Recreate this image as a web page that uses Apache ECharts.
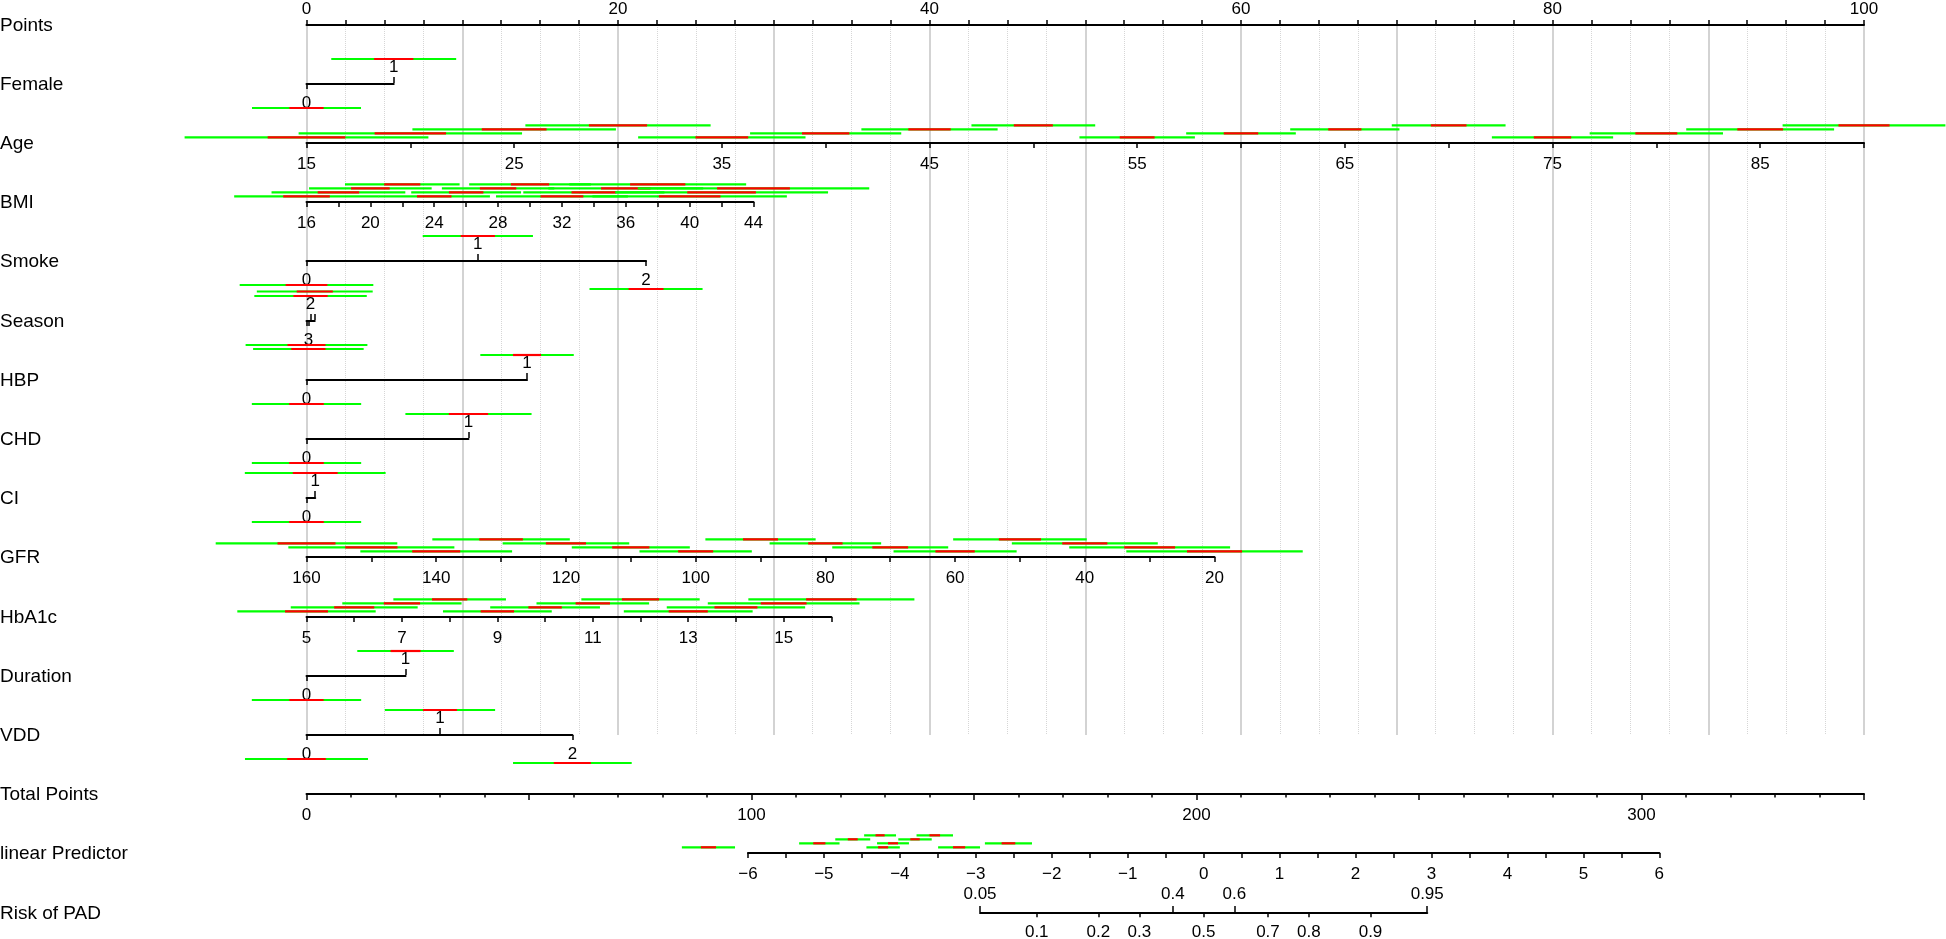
<!DOCTYPE html>
<html>
<head>
<meta charset="utf-8">
<title>Nomogram - Risk of PAD</title>
<script src="https://cdn.jsdelivr.net/npm/echarts@6/dist/echarts.min.js"></script>
<style>
  html, body { margin: 0; padding: 0; background: #fff; }
  #chart { width: 1946px; height: 939px; }
</style>
</head>
<body>
<div id="chart"></div>
<script>
// row titles, top to bottom
const rowNames = ['Points', 'Female', 'Age', 'BMI', 'Smoke', 'Season', 'HBP', 'CHD', 'CI',
  'GFR', 'HbA1c', 'Duration', 'VDD', 'Total Points', 'linear Predictor', 'Risk of PAD'];

// continuous predictors: values with a bar, half width of red (inner) and green (outer) band, in variable units
const ageValues = [15, 20, 25, 30, 35, 40, 45, 50, 55, 60, 65, 70, 75, 80, 85, 90];
const ageRed = [1.87, 1.72, 1.56, 1.40, 1.27, 1.14, 1.02, 0.94, 0.84, 0.83, 0.80, 0.86, 0.90, 1.01, 1.10, 1.23];
const ageGreen = [5.87, 5.38, 4.90, 4.46, 4.03, 3.64, 3.28, 2.98, 2.78, 2.64, 2.63, 2.74, 2.92, 3.21, 3.56, 3.92];
const agePoints = [0, 100];          // points at age 15 and at age 90

const bmiValues = [16, 18, 20, 22, 24, 26, 28, 30, 32, 34, 36, 38, 40, 42, 44];
const bmiRed = [1.46, 1.30, 1.21, 1.13, 1.08, 1.08, 1.14, 1.20, 1.34, 1.40, 1.55, 1.73, 1.93, 2.15, 2.28];
const bmiGreen = [4.53, 4.19, 3.84, 3.59, 3.49, 3.44, 3.52, 3.81, 4.13, 4.42, 4.85, 5.54, 6.09, 6.67, 7.25];
const bmiPoints = [0, 28.7];         // points at BMI 16 and 44

const gfrValues = [20, 30, 40, 50, 60, 70, 80, 90, 100, 110, 120, 130, 140, 150, 160];
const gfrRed = [4.25, 3.92, 3.48, 3.25, 3.03, 2.76, 2.65, 2.70, 2.70, 2.87, 3.09, 3.36, 3.70, 4.03, 4.47];
const gfrGreen = [13.6, 12.4, 11.25, 10.3, 9.49, 8.94, 8.6, 8.5, 8.66, 9.1, 9.76, 10.6, 11.7, 12.8, 14.0];
const gfrPoints = [0, 58.3];         // points at GFR 160 and 20

const hba1cValues = [5, 6, 7, 8, 9, 10, 11, 12, 13, 14, 15, 16];
const hba1cRed = [0.45, 0.42, 0.38, 0.37, 0.35, 0.35, 0.36, 0.39, 0.41, 0.45, 0.48, 0.53];
const hba1cGreen = [1.45, 1.33, 1.25, 1.18, 1.14, 1.15, 1.18, 1.24, 1.35, 1.45, 1.59, 1.74];
const hba1cPoints = [0, 33.7];       // points at HbA1c 5 and 16

// categorical predictors: level, points, label side (a = above, b = below), half widths in points
const femaleLevels = ['0', '1'];
const femalePts = [0, 5.6];
const femaleSide = ['b', 'a'];
const femaleRed = [1.10, 1.26];
const femaleGreen = [3.50, 4.01];

const smokeLevels = ['0', '1', '2'];
const smokePts = [0, 11.0, 21.8];
const smokeSide = ['b', 'a', 'b'];
const smokeRed = [1.34, 1.10, 1.12];
const smokeGreen = [4.29, 3.54, 3.63];

const seasonLevels = ['1', '2', '3', '4'];
const seasonPts = [0, 0.26, 0.12, 0.53];
const seasonSide = ['b', 'a', 'b', 'a'];
const seasonShown = [false, true, true, false];
const seasonRed = [1.22, 1.10, 1.10, 1.16];
const seasonGreen = [3.91, 3.61, 3.55, 3.72];

const hbpLevels = ['0', '1'];
const hbpPts = [0, 14.16];
const hbpRed = [1.11, 0.90];
const hbpGreen = [3.51, 3.00];

const chdLevels = ['0', '1'];
const chdPts = [0, 10.4];
const chdRed = [1.11, 1.26];
const chdGreen = [3.51, 4.05];

const ciLevels = ['0', '1'];
const ciPts = [0, 0.56];
const ciRed = [1.11, 1.44];
const ciGreen = [3.51, 4.52];

const durationLevels = ['0', '1'];
const durationPts = [0, 6.36];
const durationRed = [1.10, 0.96];
const durationGreen = [3.51, 3.10];

const vddLevels = ['0', '1', '2'];
const vddPts = [0, 8.57, 17.07];
const vddSide = ['b', 'a', 'b'];
const vddRed = [1.24, 1.09, 1.19];
const vddGreen = [3.95, 3.54, 3.81];

// total points / linear predictor / risk scales
const totalRange = [0, 350];
const lpRange = [-6, 6];
const lpTotalAt = [99.2, 304.0];     // total points at LP -6 and LP 6
const lpCenters = [-6.52, -5.06, -4.62, -4.26, -4.22, -4.09, -3.80, -3.54, -3.22, -2.57];
const lpRed = [0.10, 0.08, 0.065, 0.06, 0.066, 0.066, 0.062, 0.07, 0.08, 0.09];
const lpGreen = [0.35, 0.266, 0.23, 0.21, 0.22, 0.21, 0.22, 0.24, 0.276, 0.31];
const riskAbove = [0.05, 0.4, 0.6, 0.95];
const riskBelow = [0.1, 0.2, 0.3, 0.5, 0.7, 0.8, 0.9];

// ---- layout ----
const FONT = '"Liberation Sans", Arial, Helvetica, sans-serif';
const GREEN = '#00ff00';
const RED = '#ff0000';
const BAR_W = 2.2;
const X0 = 306.5;                    // x of 0 points
const PX = 15.575;                   // pixels per point
const rowY = function (i) { return Math.round(24.5 + 59.2 * i); };
const ptsX = function (p) { return X0 + p * PX; };
const TPX = 100 * PX / (totalRange[1] - totalRange[0]);
const logit = function (p) { return Math.log(p / (1 - p)); };

const grids = [];
const xAxes = [];
const yAxes = [];
const series = [];
const graphics = [];

const merge = function merge(a, b) {
  const out = Object.assign({}, a);
  Object.keys(b).forEach(function (k) {
    const v = b[k];
    if (v && typeof v === 'object' && !Array.isArray(v) && a[k] && typeof a[k] === 'object') {
      out[k] = merge(a[k], v);
    } else {
      out[k] = v;
    }
  });
  return out;
};

const addGrid = function (left, width, top, height) {
  grids.push({ left: left, width: width, top: top, height: height, containLabel: false });
  const gi = grids.length - 1;
  yAxes.push({ gridIndex: gi, type: 'value', min: 0, max: 1, show: false });
  return gi;
};

const baseAxis = function (gi, extra) {
  return merge({
    gridIndex: gi,
    type: 'value',
    axisLine: { show: true, onZero: false, lineStyle: { color: '#000', width: 2 } },
    axisTick: { show: true, length: 5, lineStyle: { color: '#000', width: 1.5 } },
    axisLabel: { color: '#000', fontSize: 17, fontFamily: FONT, margin: 13 },
    splitLine: { show: false }
  }, extra);
};

const addXAxis = function (opt) {
  xAxes.push(opt);
  return xAxes.length - 1;
};

const renderBar = function (params, api) {
  const c = api.value(0);
  const r = api.value(2);
  const g = api.value(3);
  const y = api.coord([c, 0])[1] + api.value(4);
  const x = function (v) { return api.coord([v, 0])[0]; };
  return {
    type: 'group',
    children: [
      { type: 'line', shape: { x1: x(c - g), y1: y, x2: x(c + g), y2: y }, style: { stroke: GREEN, lineWidth: BAR_W } },
      { type: 'line', shape: { x1: x(c - r), y1: y, x2: x(c + r), y2: y }, style: { stroke: RED, lineWidth: BAR_W } }
    ]
  };
};

const addBars = function (gi, xi, data) {
  series.push({
    type: 'custom',
    xAxisIndex: xi,
    yAxisIndex: gi,
    silent: true,
    clip: false,
    z: 5,
    dimensions: ['c', 'y', 'r', 'g', 'dy'],
    encode: { x: 0, y: 1 },
    data: data,
    renderItem: renderBar
  });
};

// bars of a scale stacked upward in four rows, cycling in ascending order
const stackedBars = function (centers, red, green) {
  return centers.map(function (c, i) { return [c, 0, red[i], green[i], -(5.7 + 4 * (i % 4))]; });
};

// Points axis with the vertical reference lines
(function () {
  const gi = addGrid(X0, 100 * PX, rowY(0), rowY(12) - rowY(0));
  addXAxis(baseAxis(gi, {
    position: 'top', min: 0, max: 100, interval: 10,
    minorTick: { show: true, splitNumber: 4, length: 5, lineStyle: { color: '#000', width: 1.5 } },
    splitLine: { show: true, lineStyle: { color: '#c4c4c4', width: 1.5 } },
    minorSplitLine: { show: true, lineStyle: { color: '#d6d6d6', width: 1, type: 'dotted' } },
    axisLabel: { margin: 7.5, formatter: function (v) { return v % 20 === 0 ? String(v) : ''; } }
  }));
})();

const addContinuous = function (row, values, red, green, pts, axisOpt) {
  const gi = addGrid(ptsX(pts[0]), (pts[1] - pts[0]) * PX, rowY(row) - 1, 1);
  const xi = addXAxis(baseAxis(gi, merge({ position: 'bottom' }, axisOpt)));
  addBars(gi, xi, stackedBars(values, red, green));
};

addContinuous(2, ageValues, ageRed, ageGreen, agePoints, {
  min: 15, max: 90, interval: 5,
  axisLabel: { formatter: function (v) { return (v - 15) % 10 === 0 && v < 90 ? String(v) : ''; } }
});
addContinuous(3, bmiValues, bmiRed, bmiGreen, bmiPoints, {
  min: 16, max: 44, interval: 2,
  axisLabel: { formatter: function (v) { return (v - 16) % 4 === 0 ? String(v) : ''; } }
});
addContinuous(9, gfrValues, gfrRed, gfrGreen, gfrPoints, {
  min: 20, max: 160, interval: 10, inverse: true,
  axisLabel: { formatter: function (v) { return v % 20 === 0 ? String(v) : ''; } }
});
addContinuous(10, hba1cValues, hba1cRed, hba1cGreen, hba1cPoints, {
  min: 5, max: 16, interval: 1,
  axisLabel: { formatter: function (v) { return (v - 5) % 2 === 0 && v < 16 ? String(v) : ''; } }
});

const addCategorical = function (row, levels, pts, sides, shown, red, green) {
  const minP = Math.min.apply(null, pts);
  const maxP = Math.max.apply(null, pts);
  const gi = addGrid(ptsX(minP), (maxP - minP) * PX, rowY(row) - 1, 1);
  const name = function (v) {
    const i = pts.findIndex(function (p) { return Math.abs(p - v) < 1e-6; });
    return i >= 0 ? levels[i] : '';
  };
  const pick = function (side, labelsOnly) {
    return pts.filter(function (p, i) { return sides[i] === side && (!labelsOnly || shown[i]); });
  };
  addXAxis(baseAxis(gi, {
    position: 'top', min: minP, max: maxP,
    axisLine: { show: false },
    axisTick: { length: 6, customValues: pick('a', false) },
    axisLabel: { margin: 7.5, customValues: pick('a', true), formatter: name }
  }));
  const xi = addXAxis(baseAxis(gi, {
    position: 'bottom', min: minP, max: maxP,
    axisTick: { length: 5, customValues: pick('b', false) },
    axisLabel: { margin: 11, customValues: pick('b', true), formatter: name }
  }));
  let nAbove = 0;
  let nBelow = 0;
  const data = pts.map(function (p, i) {
    const dy = sides[i] === 'a' ? -(25 + 4.5 * nAbove++) : (24 + 4 * nBelow++);
    return [p, 0, red[i], green[i], dy];
  });
  addBars(gi, xi, data);
};

const twoSides = ['b', 'a'];
const allShown = [true, true, true];
addCategorical(1, femaleLevels, femalePts, femaleSide, allShown, femaleRed, femaleGreen);
addCategorical(4, smokeLevels, smokePts, smokeSide, allShown, smokeRed, smokeGreen);
addCategorical(5, seasonLevels, seasonPts, seasonSide, seasonShown, seasonRed, seasonGreen);
addCategorical(6, hbpLevels, hbpPts, twoSides, allShown, hbpRed, hbpGreen);
addCategorical(7, chdLevels, chdPts, twoSides, allShown, chdRed, chdGreen);
addCategorical(8, ciLevels, ciPts, twoSides, allShown, ciRed, ciGreen);
addCategorical(11, durationLevels, durationPts, twoSides, allShown, durationRed, durationGreen);
addCategorical(12, vddLevels, vddPts, vddSide, allShown, vddRed, vddGreen);

// Total Points
(function () {
  const gi = addGrid(X0, (totalRange[1] - totalRange[0]) * TPX, rowY(13) - 1, 1);
  addXAxis(baseAxis(gi, {
    position: 'bottom', min: totalRange[0], max: totalRange[1], interval: 50,
    axisTick: { length: 6 },
    minorTick: { show: true, splitNumber: 5, length: 3.5, lineStyle: { color: '#000', width: 1.5 } },
    axisLabel: { formatter: function (v) { return v % 100 === 0 ? String(v) : ''; } }
  }));
})();

// linear predictor
const lpLeft = X0 + lpTotalAt[0] * TPX;
const lpWidth = (lpTotalAt[1] - lpTotalAt[0]) * TPX;
const lpX = function (l) { return lpLeft + (l - lpRange[0]) / (lpRange[1] - lpRange[0]) * lpWidth; };
(function () {
  const gi = addGrid(lpLeft, lpWidth, rowY(14) - 1, 1);
  const xi = addXAxis(baseAxis(gi, {
    position: 'bottom', min: lpRange[0], max: lpRange[1], interval: 1,
    minorTick: { show: true, splitNumber: 2, length: 5, lineStyle: { color: '#000', width: 1.5 } },
    axisLabel: { formatter: function (v) { return v < 0 ? '\u2212' + (-v) : String(v); } }
  }));
  addBars(gi, xi, stackedBars(lpCenters, lpRed, lpGreen));
})();

// risk of PAD on the logit scale of the linear predictor
(function () {
  const lo = logit(riskAbove[0]);
  const hi = logit(riskAbove[riskAbove.length - 1]);
  const gi = addGrid(lpX(lo), lpX(hi) - lpX(lo), rowY(15) - 1, 1);
  const probs = riskAbove.concat(riskBelow);
  const name = function (v) {
    const p = probs.find(function (q) { return Math.abs(logit(q) - v) < 1e-6; });
    return p === undefined ? '' : String(p);
  };
  addXAxis(baseAxis(gi, {
    position: 'top', min: lo, max: hi,
    axisLine: { show: false },
    axisTick: { length: 6, customValues: riskAbove.map(logit) },
    axisLabel: { margin: 9, customValues: riskAbove.map(logit), formatter: name }
  }));
  addXAxis(baseAxis(gi, {
    position: 'bottom', min: lo, max: hi,
    axisTick: { length: 5, customValues: riskBelow.map(logit) },
    axisLabel: { margin: 12, customValues: riskBelow.map(logit), formatter: name }
  }));
})();

rowNames.forEach(function (n, i) {
  graphics.push({
    type: 'text', x: 0, y: rowY(i) + 1, silent: true,
    style: { text: n, fill: '#000', fontSize: 19, fontFamily: FONT, align: 'left', verticalAlign: 'middle' }
  });
});

const chart = echarts.init(document.getElementById('chart'), null, { renderer: 'canvas' });
chart.setOption({
  animation: false,
  backgroundColor: '#fff',
  grid: grids,
  xAxis: xAxes,
  yAxis: yAxes,
  series: series,
  graphic: graphics
});
</script>
</body>
</html>
